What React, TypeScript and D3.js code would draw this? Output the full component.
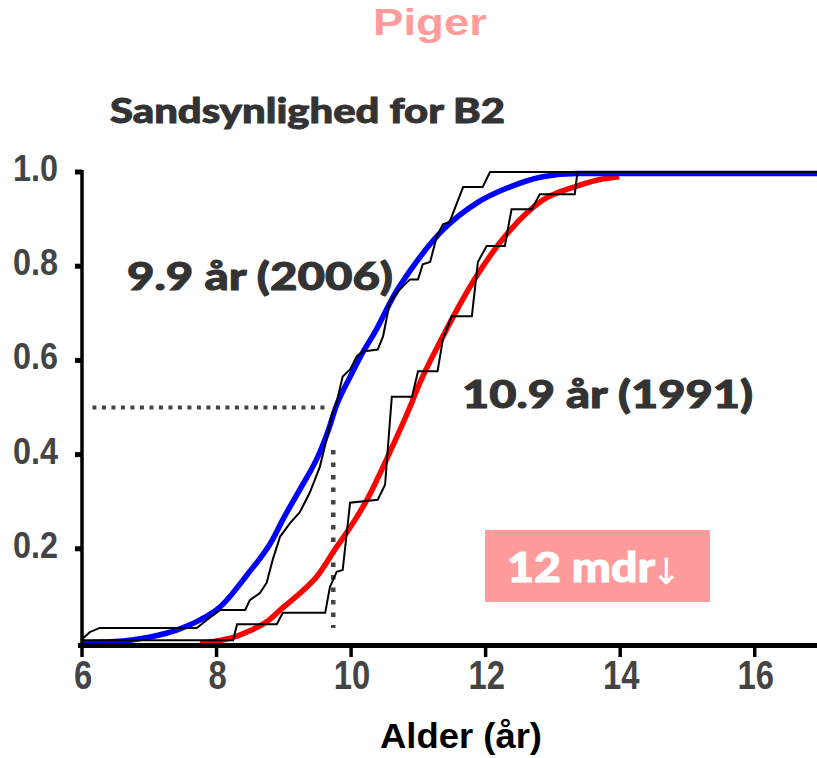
import React from "react";
import * as d3 from "d3";

// smoothed cumulative curves (age in years, probability)
const blue2006 = [
  [6.0, 0], [6.5, 0.003], [6.73, 0.006], [7.03, 0.013], [7.43, 0.028], [7.77, 0.049],
  [8.07, 0.077], [8.47, 0.145], [8.85, 0.22], [9.0, 0.262], [9.25, 0.325], [9.55, 0.405],
  [9.66, 0.445], [9.8, 0.505], [10.0, 0.565], [10.15, 0.607], [10.4, 0.668], [10.64, 0.735],
  [10.89, 0.79], [11.38, 0.877], [11.88, 0.934], [12.37, 0.968], [12.86, 0.99], [13.37, 0.997],
  [17, 0.997],
];

const red1991 = [
  [7.77, 0], [8.0, 0.004], [8.26, 0.012], [8.51, 0.026], [8.76, 0.045], [9.0, 0.075],
  [9.25, 0.105], [9.5, 0.14], [9.8, 0.204], [10.0, 0.245], [10.25, 0.304], [10.59, 0.405],
  [10.93, 0.515], [11.0, 0.54], [11.38, 0.651], [11.88, 0.779], [12.37, 0.875], [12.86, 0.94],
  [13.37, 0.97], [13.71, 0.984], [14.0, 0.99],
];

// empirical step curves
const black2006 = [
  [6.0, 0.006], [6.13, 0.023], [6.28, 0.032], [7.72, 0.032], [7.87, 0.049], [8.07, 0.07],
  [8.44, 0.07], [8.51, 0.091], [8.66, 0.106], [8.76, 0.128], [8.85, 0.177], [8.96, 0.226],
  [9.11, 0.255], [9.25, 0.277], [9.4, 0.319], [9.55, 0.374], [9.66, 0.438], [9.73, 0.485],
  [9.8, 0.511], [9.89, 0.566], [10.0, 0.581], [10.1, 0.609], [10.19, 0.619], [10.41, 0.623],
  [10.49, 0.651], [10.59, 0.723], [10.7, 0.745], [10.89, 0.772], [11.01, 0.772], [11.08, 0.804],
  [11.19, 0.809], [11.29, 0.864], [11.38, 0.889], [11.48, 0.894], [11.68, 0.968], [11.97, 0.968],
  [12.08, 1.0], [17, 1.0],
];

const black1991 = [
  [6.0, 0.006], [8.26, 0.006], [8.32, 0.04], [8.91, 0.04], [9.0, 0.064], [9.63, 0.064],
  [9.7, 0.119], [9.8, 0.151], [9.89, 0.155], [10.0, 0.298], [10.41, 0.304], [10.52, 0.336],
  [10.62, 0.523], [10.92, 0.523], [11.01, 0.577], [11.3, 0.577], [11.38, 0.645], [11.51, 0.694],
  [11.81, 0.694], [11.9, 0.809], [12.03, 0.843], [12.3, 0.843], [12.4, 0.921], [12.7, 0.921],
  [12.82, 0.953], [13.34, 0.953], [13.38, 1.0], [17, 1.0],
];

const xTicks = [6, 8, 10, 12, 14, 16];
const yTicks = [0.2, 0.4, 0.6, 0.8, 1.0];

const medianLevel = 0.5;
const medianAge = 9.75;

const W = 817;
const H = 758;

const x = d3.scaleLinear().domain([6, 17]).range([81, 821]);
const y = d3.scaleLinear().domain([0, 1]).range([643, 172]);

const smooth = d3
  .line<number[]>()
  .x((d) => x(d[0]))
  .y((d) => y(d[1]))
  .curve(d3.curveMonotoneX);

const steps = d3
  .line<number[]>()
  .x((d) => x(d[0]))
  .y((d) => y(d[1]));

const tickFont = "'Liberation Sans', Arial, sans-serif";
const annFont = "Lato, 'Open Sans', sans-serif";

export default function App() {
  return (
    <svg
      width={W}
      height={H}
      style={{ position: "absolute", left: 0, top: 0, background: "#fff" }}
    >
      <text
        x={430}
        y={35}
        textAnchor="middle"
        fontFamily="'Liberation Sans', Arial, sans-serif"
        fontWeight="bold"
        fontSize={36}
        fill="#ff9b9b"
        textLength={114}
        lengthAdjust="spacingAndGlyphs"
      >
        Piger
      </text>
      <text
        x={110}
        y={123}
        fontFamily={annFont}
        fontWeight={900}
        fontSize={34}
        fill="#333"
        stroke="#333"
        strokeWidth={0.9}
        textLength={395}
        lengthAdjust="spacingAndGlyphs"
      >
        Sandsynlighed for B2
      </text>

      {/* dotted median guides */}
      <line
        x1={x(6.17)}
        x2={x(9.62)}
        y1={y(medianLevel)}
        y2={y(medianLevel)}
        stroke="#444"
        strokeWidth={4}
        strokeDasharray="4,5.5"
      />
      <line
        x1={x(medianAge)}
        x2={x(medianAge)}
        y1={y(0.41)}
        y2={y(0.032)}
        stroke="#444"
        strokeWidth={4.5}
        strokeDasharray="4.5,8"
      />

      <path d={smooth(red1991) || ""} fill="none" stroke="#ff0000" strokeWidth={5.5} />
      <path d={smooth(blue2006) || ""} fill="none" stroke="#0000ff" strokeWidth={5.5} />
      <path d={steps(black1991) || ""} fill="none" stroke="#000" strokeWidth={2} />
      <path d={steps(black2006) || ""} fill="none" stroke="#000" strokeWidth={2} />

      {/* axes */}
      <line x1={82} x2={82} y1={170} y2={646} stroke="#000" strokeWidth={3.5} />
      {yTicks.map((t) => (
        <g key={t}>
          <line x1={75} x2={82} y1={y(t)} y2={y(t)} stroke="#000" strokeWidth={5} />
          <g transform={`translate(58,${y(t) + 9}) scale(0.9,1.05)`}>
            <text
              textAnchor="end"
              fontFamily={tickFont}
              fontWeight="bold"
              fontSize={36}
              fill="#444"
            >
              {t.toFixed(1)}
            </text>
          </g>
        </g>
      ))}
      <line x1={78} x2={W} y1={y(0) + 2.5} y2={y(0) + 2.5} stroke="#000" strokeWidth={5} />
      {xTicks.map((t) => (
        <g key={t}>
          <line x1={x(t) + 1} x2={x(t) + 1} y1={645} y2={657} stroke="#000" strokeWidth={3.5} />
          <g transform={`translate(${x(t) + 2},689) scale(0.82,1)`}>
            <text
              textAnchor="middle"
              fontFamily={tickFont}
              fontWeight="bold"
              fontSize={40}
              fill="#444"
            >
              {t}
            </text>
          </g>
        </g>
      ))}

      <text
        x={127}
        y={290}
        fontFamily={annFont}
        fontWeight={900}
        fontSize={38}
        fill="#333"
        stroke="#333"
        strokeWidth={1}
        textLength={266}
        lengthAdjust="spacingAndGlyphs"
      >
        9.9 år (2006)
      </text>
      <text
        x={462}
        y={408}
        fontFamily={annFont}
        fontWeight={900}
        fontSize={38}
        fill="#333"
        stroke="#333"
        strokeWidth={1}
        textLength={291}
        lengthAdjust="spacingAndGlyphs"
      >
        10.9 år (1991)
      </text>

      <rect x={485} y={530} width={225} height={72} fill="#ff9b9b" />
      <text
        x={507}
        y={582}
        fontFamily={annFont}
        fontWeight={900}
        fontSize={41}
        fill="#fff"
        stroke="#fff"
        strokeWidth={1}
        textLength={148}
        lengthAdjust="spacingAndGlyphs"
      >
        12 mdr
      </text>
      <text
        x={666}
        y={584}
        textAnchor="middle"
        fontFamily="'DejaVu Sans', sans-serif"
        fontSize={36}
        fill="#fff"
      >
        ↓
      </text>

      <text
        x={461}
        y={748}
        textAnchor="middle"
        fontFamily="'Liberation Sans', Arial, sans-serif"
        fontWeight="bold"
        fontSize={35}
        fill="#000"
        textLength={162}
        lengthAdjust="spacingAndGlyphs"
      >
        Alder (år)
      </text>
    </svg>
  );
}
